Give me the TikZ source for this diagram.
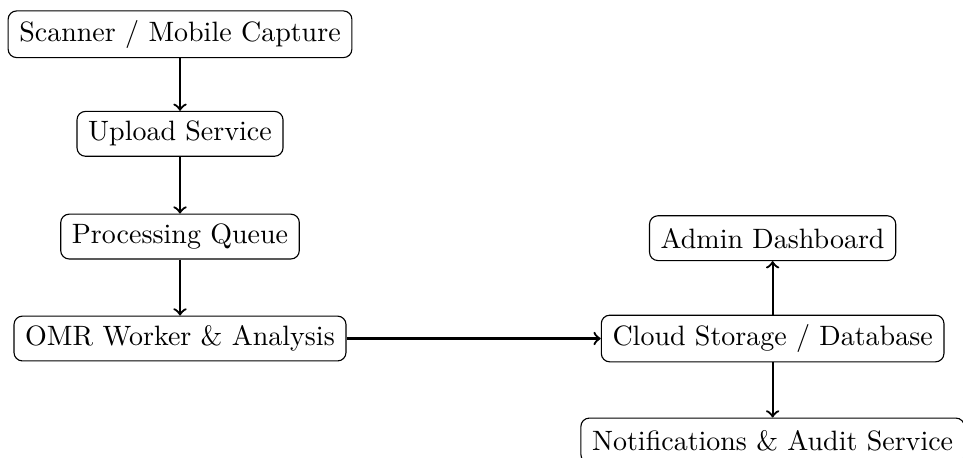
\documentclass[tikz,border=0pt]{standalone}
\begin{document}
\begin{tikzpicture}[box/.style={draw, rounded corners=3pt, fill=white, inner xsep=4pt, minimum height=16pt}, flow/.style={thick, ->}]
                    \useasboundingbox (0,0) rectangle (12.09,-5.74);
                    \node[box] (scanner) at (2.26,-0.43) {Scanner / Mobile Capture};
                    \node[box] (upload) at (2.26,-1.68) {Upload Service};
                    \node[box] (queue) at (2.26,-2.97) {Processing Queue};
                    \node[box] (omr) at (2.26,-4.25) {OMR Worker \& Analysis};
                    \node[box] (admin) at (9.70,-2.99) {Admin Dashboard};
                    \node[box] (cloud) at (9.70,-4.25) {Cloud Storage / Database};
                    \node[box] (notify) at (9.70,-5.53) {Notifications \& Audit Service};
                    \draw[flow] (scanner) -- (upload);
                    \draw[flow] (upload) -- (queue);
                    \draw[flow] (queue) -- (omr);
                    \draw[flow] (omr) -- (cloud);
                    \draw[flow] (cloud) -- (admin);
                    \draw[flow] (cloud) -- (notify);
                \end{tikzpicture}
\end{document}
